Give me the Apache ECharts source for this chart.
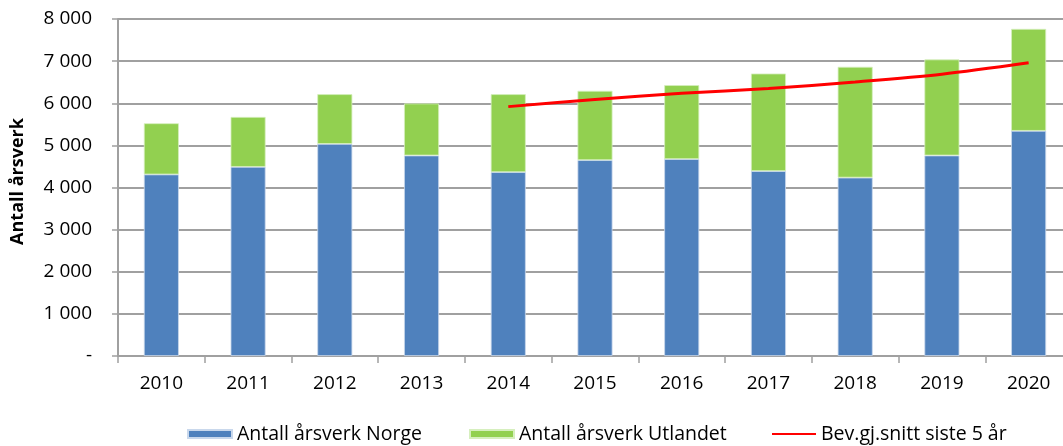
<!DOCTYPE html>
<html>
<head>
<meta charset="utf-8">
<script src="https://cdn.jsdelivr.net/npm/echarts@6/dist/echarts.min.js"></script>
<style>
  html, body {margin: 0; padding: 0; background: #fff;}
  #chart {width: 1063px; height: 446px;}
</style>
</head>
<body>
<div id="chart"></div>
<script>
  var years = ["2010", "2011", "2012", "2013", "2014", "2015", "2016", "2017", "2018", "2019", "2020"];
  var norge = [4310, 4490, 5035, 4760, 4365, 4650, 4675, 4390, 4235, 4760, 5345];
  var utlandet = [1215, 1185, 1180, 1235, 1850, 1645, 1755, 2315, 2630, 2280, 2420];
  // glidende snitt, bare fra 2014
  var snitt = [null, null, null, null, 5920, 6090, 6235, 6350, 6505, 6690, 6960];
  var names = ["Antall årsverk Norge", "Antall årsverk Utlandet", "Bev.gj.snitt siste 5 år"];

  var chartDom, fontFam = "'Open Sans', 'Noto Sans', sans-serif";

  function fmt(v){
    if (v === 0) return "-";
    var s = String(v);
    return s.length > 3 ? s.slice(0, s.length - 3) + " " + s.slice(-3) : s;
  }

  function legendAt(left, item){
    return {
      left: left,
      top: 424,
      padding: 0,
      itemWidth: 44,
      itemHeight: 8,
      itemGap: 0,
      selectedMode: false,
      textStyle: {fontSize: 19.5, color: "#000", fontFamily: fontFam},
      data: [item]
    };
  }

  function getOptions(){
    var gridColor = "#a0a0a0";
    return {
      animation: false,
      grid: {left: 118, top: 19, bottom: 90, width: 954, outerBoundsMode: "none"},
      // tre separate legender, for aa plassere dem som i originalen
      legend: [
        legendAt(187, {name: names[0], icon: "rect"}),
        legendAt(469, {name: names[1], icon: "rect"}),
        legendAt(771, {name: names[2], itemStyle: {color: "rgba(0,0,0,0)", borderWidth: 0, opacity: 0}})
      ],
      xAxis: {
        type: "category",
        data: years,
        axisLine: {lineStyle: {color: gridColor, width: 2}},
        axisTick: {show: true, length: 7, lineStyle: {color: gridColor, width: 1.5}},
        axisLabel: {margin: 18, fontSize: 19, color: "#000", fontFamily: fontFam}
      },
      yAxis: {
        type: "value",
        min: 0,
        max: 8000,
        interval: 1000,
        name: "Antall årsverk",
        nameLocation: "middle",
        nameGap: 91,
        nameTextStyle: {fontSize: 18, fontWeight: "bold", color: "#000", fontFamily: fontFam, padding: [0, 0, 0, 12]},
        axisLine: {show: true, lineStyle: {color: gridColor, width: 2}},
        axisTick: {show: true, length: 6, lineStyle: {color: gridColor, width: 1.5}},
        splitLine: {lineStyle: {color: gridColor, width: 2}},
        axisLabel: {
          margin: 26,
          fontSize: 19,
          color: "#000",
          fontFamily: fontFam,
          formatter: fmt
        }
      },
      series: [
        {
          name: names[0],
          type: "bar",
          stack: "tot",
          barWidth: 35,
          itemStyle: {color: "#4f81bd", borderColor: "#c9d8ec", borderWidth: 0.8},
          data: norge
        },
        {
          name: names[1],
          type: "bar",
          stack: "tot",
          barWidth: 35,
          itemStyle: {color: "#92d050", borderColor: "#d6efbe", borderWidth: 0.8},
          data: utlandet
        },
        {
          name: names[2],
          type: "line",
          symbol: "none",
          smooth: 0.3,
          lineStyle: {color: "#ff0000", width: 3},
          itemStyle: {color: "#ff0000"},
          data: snitt,
          z: 5
        }
      ]
    };
  }

  chartDom = echarts.init(document.getElementById("chart"));
  chartDom.setOption(getOptions());
</script>
</body>
</html>
